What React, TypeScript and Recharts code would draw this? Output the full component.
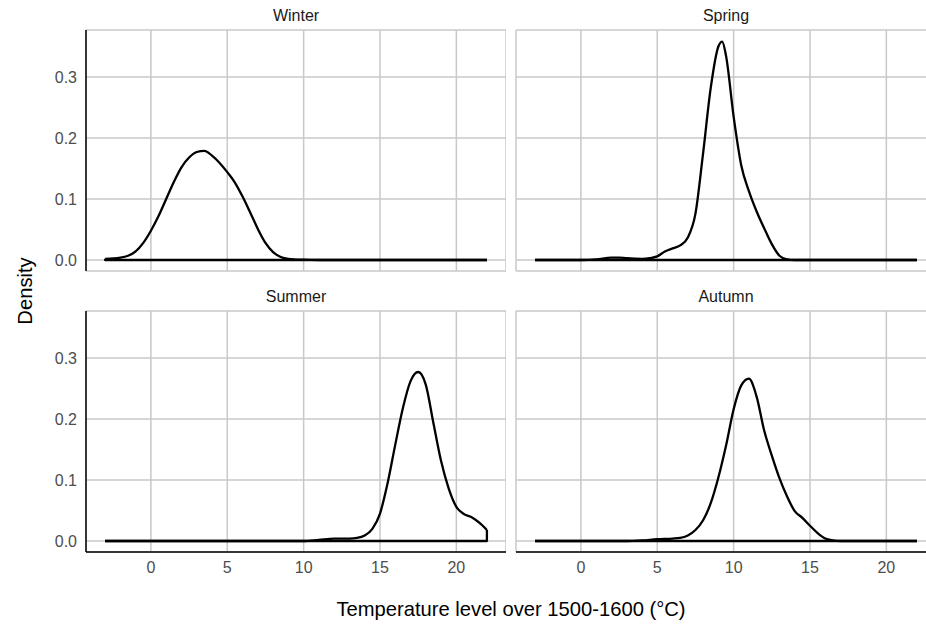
import React from 'react';
import { LineChart, Line, XAxis, YAxis, CartesianGrid } from 'recharts';

// ---- data ----
const xTicks = [0, 5, 10, 15, 20];
const yTicks = [0, 0.1, 0.2, 0.3];
const seasonNames = ['Winter', 'Spring', 'Summer', 'Autumn'];

const winterTemp = [-3, -2, -1.5, -1, -0.5, 0, 0.5, 1, 1.5, 2, 2.5, 3, 3.5, 4, 4.5, 5, 5.5, 6, 6.5, 7, 7.5, 8, 8.5, 9, 10, 11, 22];
const winterDens = [0.002, 0.004, 0.007, 0.014, 0.028, 0.048, 0.072, 0.1, 0.128, 0.152, 0.168, 0.177, 0.179, 0.171, 0.159, 0.144, 0.127, 0.104, 0.078, 0.051, 0.028, 0.013, 0.005, 0.002, 0.0005, 0, 0];

const springTemp = [-3, 0, 1, 2, 2.5, 3, 4, 4.5, 5, 5.5, 6, 6.5, 7, 7.5, 8, 8.5, 9, 9.25, 9.5, 10, 10.5, 11, 11.5, 12, 12.5, 13, 13.5, 14, 22];
const springDens = [0, 0, 0.001, 0.004, 0.004, 0.003, 0.002, 0.003, 0.006, 0.014, 0.019, 0.024, 0.037, 0.076, 0.175, 0.282, 0.35, 0.358, 0.335, 0.235, 0.155, 0.113, 0.08, 0.052, 0.026, 0.007, 0.001, 0, 0];

const summerTemp = [-3, 10, 11, 12, 13, 13.5, 14, 14.5, 15, 15.5, 16, 16.5, 17, 17.5, 18, 18.5, 19, 19.5, 20, 20.5, 21, 21.5, 22];
const summerDens = [0, 0, 0.002, 0.004, 0.004, 0.005, 0.009, 0.02, 0.045, 0.095, 0.158, 0.218, 0.262, 0.277, 0.256, 0.193, 0.131, 0.086, 0.056, 0.044, 0.039, 0.03, 0.018];

const autumnTemp = [-3, 3, 4, 5, 6, 6.5, 7, 7.5, 8, 8.5, 9, 9.5, 10, 10.5, 11, 11.5, 12, 12.5, 13, 13.5, 14, 14.5, 15, 15.5, 16, 16.5, 17, 22];
const autumnDens = [0, 0, 0.001, 0.003, 0.004, 0.005, 0.009, 0.018, 0.034, 0.062, 0.104, 0.156, 0.216, 0.255, 0.266, 0.237, 0.181, 0.14, 0.103, 0.073, 0.049, 0.038, 0.025, 0.013, 0.004, 0.001, 0, 0];

const xTitle = 'Temperature level over 1500-1600 (°C)';
const yTitle = 'Density';

// ---- styling ----
const FONT = '"Liberation Sans", Arial, Helvetica, sans-serif';
const GRID = '#c8c8c8';
const SMALL = 16;
const BIG = 20.2;

type PanelProps = {
  temps: number[];
  dens: number[];
  left: number;
  top: number;
  showX: boolean;
  showY: boolean;
};

function Panel({ temps, dens, left, top, showX, showY }: PanelProps) {
  const curve = temps.map((t, i) => ({ t, d: dens[i] }));
  const n = curve.length;
  const closing = [
    curve[n - 1],
    { t: curve[n - 1].t, d: 0 },
    { t: curve[0].t, d: 0 },
    curve[0],
  ];
  const width = showY ? 506 : 430;
  const height = showX ? 300 : 290;
  return (
    <div style={{ position: 'absolute', left, top }}>
      <LineChart
        width={width}
        height={height}
        margin={{ top: 30, right: 0, bottom: showX ? 0 : 19, left: showY ? 0 : 10 }}
      >
        <CartesianGrid stroke={GRID} strokeWidth={1.5} />
        <XAxis
          dataKey="t"
          type="number"
          domain={[-4.25, 23.25]}
          allowDataOverflow
          ticks={xTicks}
          interval={0}
          hide={!showX}
          height={showX ? 29 : 0}
          tickLine={false}
          tickSize={0}
          tickMargin={10}
          axisLine={{ stroke: '#000', strokeWidth: 1.5 }}
          tick={{ fill: '#4d4d4d', fontSize: SMALL, fontFamily: FONT }}
        />
        <YAxis
          type="number"
          domain={[-0.018, 0.377]}
          allowDataOverflow
          ticks={yTicks}
          interval={0}
          hide={!showY}
          width={showY ? 86 : 0}
          tickLine={false}
          tickSize={0}
          tickMargin={9}
          tickFormatter={(v: number) => v.toFixed(1)}
          axisLine={{ stroke: '#000', strokeWidth: 1.5 }}
          tick={{ fill: '#4d4d4d', fontSize: SMALL, fontFamily: FONT }}
        />
        <Line
          data={closing}
          dataKey="d"
          type="linear"
          stroke="#000"
          strokeWidth={2.3}
          dot={false}
          activeDot={false}
          isAnimationActive={false}
          strokeLinejoin="round"
        />
        <Line
          data={curve}
          dataKey="d"
          type="monotone"
          stroke="#000"
          strokeWidth={2.3}
          dot={false}
          activeDot={false}
          isAnimationActive={false}
          strokeLinejoin="round"
        />
      </LineChart>
    </div>
  );
}

export default function App() {
  return (
    <div
      style={{
        position: 'absolute',
        left: 0,
        top: 0,
        width: 926,
        height: 628,
        overflow: 'hidden',
        background: '#fff',
      }}
    >
      <Panel temps={winterTemp} dens={winterDens} left={0} top={0} showX={false} showY={true} />
      <Panel temps={springTemp} dens={springDens} left={506} top={0} showX={false} showY={false} />
      <Panel temps={summerTemp} dens={summerDens} left={0} top={281} showX={true} showY={true} />
      <Panel temps={autumnTemp} dens={autumnDens} left={506} top={281} showX={true} showY={false} />
      <svg
        width={926}
        height={628}
        style={{ position: 'absolute', left: 0, top: 0, pointerEvents: 'none' }}
      >
        <g fontFamily={FONT} textAnchor="middle">
          <text x={296} y={20.7} fontSize={SMALL} fill="#1a1a1a">{seasonNames[0]}</text>
          <text x={726} y={20.7} fontSize={SMALL} fill="#1a1a1a">{seasonNames[1]}</text>
          <text x={296} y={301.7} fontSize={SMALL} fill="#1a1a1a">{seasonNames[2]}</text>
          <text x={726} y={301.7} fontSize={SMALL} fill="#1a1a1a">{seasonNames[3]}</text>
          <text x={511} y={615.5} fontSize={BIG} fill="#000">{xTitle}</text>
          <text transform="translate(31.7,291) rotate(-90)" fontSize={BIG} fill="#000">{yTitle}</text>
        </g>
      </svg>
    </div>
  );
}
